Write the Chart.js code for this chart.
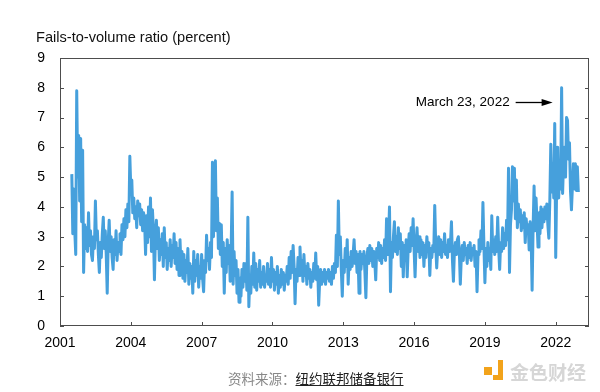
<!DOCTYPE html>
<html>
<head>
<meta charset="utf-8">
<script src="https://cdn.jsdelivr.net/npm/chart.js@4"></script>
<style>
    body { margin: 0; background: #fff; }
    #wrap { position: relative; width: 600px; height: 392px; }
    .title { position: absolute; left: 36px; top: 29px; font: 14.6px "Liberation Sans", Arial, sans-serif; color: #111; }
    .source { position: absolute; left: 228px; top: 368px; font: 13.5px "Noto Sans CJK SC", sans-serif; color: #888; }
    .source u { color: #222; }
    .mark { position: absolute; left: 510px; top: 358px; font: bold 19px "Noto Sans CJK SC", sans-serif; color: #d6d6d6; }
    .dot { position: absolute; left: 484px; top: 367px; width: 8px; height: 8px; background: #f2a31b; }
    .bracket { position: absolute; left: 493px; top: 360px; width: 5px; height: 15px; border-right: 5px solid #f2a31b; border-bottom: 5px solid #f2a31b; }
</style>
</head>
<body>
<div id="wrap">
    <canvas id="failsChart"></canvas>
    <div class="title">Fails-to-volume ratio (percent)</div>
    <div class="source">资料来源：<u>纽约联邦储备银行</u></div>
    <div class="dot"></div><div class="bracket"></div>
    <div class="mark">金色财经</div>
</div>
<script>
// Fails-to-volume ratio (two readings per month)
const firstDate = 2001.5;
const pointsPerYear = 24;

const ratio = [
    // 2001 (from July)
    5.1, 3.1, 4.6, 3.2, 2.4, 7.9, 5.0, 6.4, 4.2, 6.3, 3.5, 5.9,
    // 2002
    1.8, 3.4, 2.6, 3.3, 2.5, 3.8, 2.7, 3.2, 2.4, 2.2, 3.0, 2.6,
    4.2, 2.9, 3.2, 2.4, 1.8, 2.8, 2.3, 3.1, 3.65, 2.6, 3.2, 2.4,
    // 2003
    1.1, 2.8, 3.55, 2.5, 3.0, 2.3, 1.9, 2.9, 2.4, 3.2, 2.2, 2.8,
    2.5, 3.1, 2.4, 3.4, 2.9, 3.6, 3.0, 3.9, 3.3, 4.1, 3.5, 5.7,
    // 2004
    4.6, 4.9, 3.8, 4.3, 3.6, 4.0, 3.3, 4.2, 3.7, 4.1, 3.4, 3.9,
    3.2, 3.8, 3.5, 2.4, 3.7, 2.8, 4.0, 3.0, 4.3, 2.5, 3.9, 3.2,
    // 2005
    1.55, 3.0, 3.55, 2.6, 3.3, 2.2, 2.9, 2.4, 3.1, 2.0, 3.3, 2.3,
    2.8, 1.9, 2.6, 2.2, 2.9, 2.0, 2.7, 2.3, 3.1, 2.1, 2.8, 1.9,
    // 2006
    2.6, 1.7, 2.9, 2.0, 2.5, 1.6, 2.4, 1.5, 2.2, 1.8, 2.6, 1.4,
    2.1, 1.6, 2.0, 1.1, 2.5, 1.5, 2.2, 1.7, 2.4, 1.3, 2.0, 1.6,
    // 2007
    2.4, 1.6, 1.15, 2.2, 1.8, 3.05, 2.2, 2.6, 1.9, 2.8, 2.3, 5.5,
    3.0, 4.0, 5.55, 3.2, 4.3, 2.6, 3.45, 2.4, 3.4, 2.0, 2.8, 1.1,
    // 2008
    2.6, 1.8, 2.9, 2.1, 2.7, 1.5, 2.6, 4.5, 1.4, 2.5, 1.7, 2.2,
    1.1, 1.9, 0.8, 1.6, 1.0, 1.9, 1.3, 2.1, 1.5, 2.1, 1.2, 3.65,
    // 2009
    0.65, 1.7, 1.1, 2.0, 1.4, 2.45, 1.3, 2.1, 1.2, 1.9, 1.5, 2.2,
    1.3, 1.8, 1.4, 2.0, 1.3, 1.7, 1.5, 2.1, 1.4, 1.9, 1.3, 2.3,
    // 2010
    1.5, 1.9, 1.2, 1.8, 1.4, 2.0, 1.1, 1.7, 1.3, 1.9, 1.4, 1.8,
    1.2, 1.7, 1.5, 2.0, 1.4, 2.3, 1.6, 2.5, 1.8, 2.7, 2.0, 0.75,
    // 2011
    1.9, 1.5, 2.3, 1.7, 2.65, 1.8, 2.2, 1.5, 2.4, 1.7, 2.0, 1.4,
    2.1, 1.6, 1.9, 1.3, 1.8, 1.5, 2.1, 1.6, 2.45, 1.55, 2.0, 0.7,
    // 2012
    1.5, 1.9, 1.4, 1.8, 1.5, 1.9, 1.4, 1.8, 1.6, 1.9, 1.5, 1.8,
    1.4, 2.0, 1.6, 2.1, 1.8, 3.05, 2.0, 4.2, 2.4, 3.0, 1.9, 1.0,
    // 2013
    2.2, 1.8, 2.6, 2.0, 2.9, 1.4, 2.3, 1.9, 2.5, 2.0, 2.4, 2.9,
    2.1, 2.5, 1.8, 2.4, 1.1, 2.5, 1.9, 2.4, 2.1, 2.5, 1.8, 0.95,
    // 2014
    2.3, 2.6, 2.1, 2.7, 2.2, 2.6, 2.0, 2.5, 2.2, 1.55, 2.6, 2.3,
    2.8, 2.2, 2.7, 2.1, 2.6, 2.3, 2.9, 2.2, 3.6, 2.4, 2.9, 4.0,
    // 2015
    1.15, 2.8, 2.3, 3.0, 3.5, 2.5, 3.0, 2.4, 3.3, 2.6, 3.1, 2.0,
    2.8, 1.65, 2.7, 2.2, 2.9, 1.65, 2.6, 3.1, 2.5, 3.3, 2.7, 3.6,
    // 2016
    2.6, 1.65, 2.7, 3.3, 2.5, 3.0, 2.3, 2.9, 2.4, 2.8, 2.0, 2.7,
    2.3, 3.0, 2.5, 2.8, 1.7, 2.6, 2.3, 2.7, 2.5, 4.05, 2.7, 1.95,
    // 2017
    2.6, 3.0, 2.4, 2.9, 2.3, 2.8, 2.5, 3.1, 2.4, 2.7, 2.3, 2.9,
    2.5, 2.8, 3.5, 2.2, 1.5, 2.5, 2.8, 2.4, 2.9, 3.0, 2.5, 1.4,
    // 2018
    2.3, 2.7, 2.2, 2.8, 2.4, 2.6, 2.1, 2.7, 2.3, 2.8, 2.2, 2.6,
    2.4, 2.7, 2.0, 2.5, 1.15, 2.4, 2.9, 2.5, 3.2, 2.6, 4.15, 2.7,
    // 2019
    1.45, 2.6, 2.0, 2.8, 2.2, 2.6, 1.9, 3.7, 2.5, 2.9, 2.4, 3.0,
    2.5, 3.65, 2.6, 1.9, 2.8, 2.5, 3.3, 2.6, 3.1, 2.7, 3.55, 2.9,
    // 2020
    5.3, 1.8, 3.4, 3.9, 5.35, 4.2, 5.3, 3.6, 4.9, 3.3, 4.1, 3.5,
    3.9, 3.2, 3.7, 3.3, 3.8, 2.8, 3.6, 3.1, 3.4, 2.55, 3.5, 3.0,
    // 2021
    1.2, 3.3, 4.7, 3.2, 4.3, 3.5, 2.65, 3.8, 3.1, 4.0, 3.3, 3.9,
    3.5, 4.0, 3.6, 4.1, 3.4, 2.95, 4.2, 6.1, 4.5, 5.45, 4.3, 6.8,
    // 2022
    2.3, 4.8, 6.0, 4.3, 5.2, 4.6, 8.0, 4.45, 5.6, 6.0, 5.0, 7.0,
    6.9, 5.6, 6.15, 4.55, 3.9, 4.7, 5.45, 4.6, 5.45, 4.55, 5.35, 4.5
];

const dates = ratio.map((v, i) => firstDate + i / pointsPerYear);

const yearTicks = [2001, 2004, 2007, 2010, 2013, 2016, 2019, 2022];
const valueTicks = [0, 1, 2, 3, 4, 5, 6, 7, 8, 9];

const peakNote = 'March 23, 2022';
const arrowAt = { x: 2021.87, y: 7.52 };

const lineColor = '#46a0dc';
const frameColor = '#4d4d4d';

// frame box with inward ticks plus the arrow note
const framePlugin = {
    id: 'frame',
    afterDatasetsDraw(chart) {
        const { ctx, chartArea: a, scales } = chart;
        ctx.save();
        ctx.strokeStyle = frameColor;
        ctx.lineWidth = 1;
        ctx.strokeRect(a.left + 0.5, a.top + 0.5, a.right - a.left - 1, a.bottom - a.top - 1);

        ctx.beginPath();
        valueTicks.forEach(v => {
            const y = Math.round(scales.y.getPixelForValue(v)) + 0.5;
            ctx.moveTo(a.left, y);
            ctx.lineTo(a.left + 4, y);
            ctx.moveTo(a.right - 4, y);
            ctx.lineTo(a.right, y);
        });
        yearTicks.forEach(v => {
            const x = Math.round(scales.x.getPixelForValue(v)) + 0.5;
            ctx.moveTo(x, a.bottom);
            ctx.lineTo(x, a.bottom - 4);
        });
        ctx.stroke();

        // arrow to the peak
        const tipX = scales.x.getPixelForValue(arrowAt.x);
        const tipY = Math.round(scales.y.getPixelForValue(arrowAt.y)) + 0.5;
        ctx.strokeStyle = '#000';
        ctx.lineWidth = 1.3;
        ctx.beginPath();
        ctx.moveTo(tipX - 37, tipY);
        ctx.lineTo(tipX - 8, tipY);
        ctx.stroke();
        ctx.fillStyle = '#000';
        ctx.beginPath();
        ctx.moveTo(tipX, tipY);
        ctx.lineTo(tipX - 11, tipY - 3.5);
        ctx.lineTo(tipX - 11, tipY + 3.5);
        ctx.closePath();
        ctx.fill();

        ctx.font = '13.5px "Liberation Sans", Arial, sans-serif';
        ctx.textAlign = 'right';
        ctx.textBaseline = 'middle';
        ctx.fillText(peakNote, tipX - 43, tipY);
        ctx.restore();
    }
};

const ctx = document.getElementById('failsChart').getContext('2d');

new Chart(ctx, {
    type: 'line',
    data: {
        datasets: [{
            label: 'Fails-to-volume ratio',
            data: dates.map((d, i) => ({ x: d, y: ratio[i] })),
            borderColor: lineColor,
            borderWidth: 3,
            borderJoinStyle: 'round',
            pointRadius: 0,
            tension: 0,
            fill: false
        }]
    },
    options: {
        responsive: true,
        maintainAspectRatio: false,
        animation: false,
        layout: {
            padding: { left: 0, right: 11, top: 58, bottom: 0 }
        },
        plugins: {
            legend: { display: false },
            tooltip: { enabled: false }
        },
        scales: {
            x: {
                type: 'linear',
                min: 2001,
                max: 2023.41,
                grid: { display: false, drawTicks: false },
                border: { display: false },
                afterBuildTicks: axis => { axis.ticks = yearTicks.map(v => ({ value: v })); },
                afterFit: axis => { axis.height = 66; },
                ticks: {
                    padding: 9,
                    maxRotation: 0,
                    autoSkip: false,
                    color: '#000',
                    font: { family: '"Liberation Sans", Arial, sans-serif', size: 14 },
                    callback: v => String(v)
                }
            },
            y: {
                min: 0,
                max: 9,
                grid: { display: false, drawTicks: false },
                border: { display: false },
                afterBuildTicks: axis => { axis.ticks = valueTicks.map(v => ({ value: v })); },
                afterFit: axis => { axis.width = 60; },
                ticks: {
                    padding: 15,
                    color: '#000',
                    font: { family: '"Liberation Sans", Arial, sans-serif', size: 14 },
                    callback: v => String(v)
                }
            }
        }
    },
    plugins: [framePlugin]
});
</script>
</body>
</html>
